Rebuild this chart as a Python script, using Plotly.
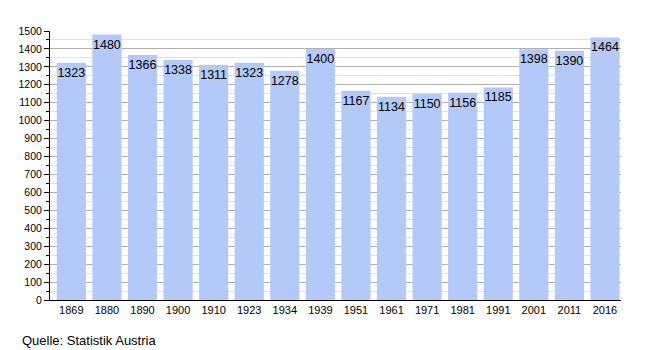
import plotly.graph_objects as go

years = ["1869", "1880", "1890", "1900", "1910", "1923", "1934", "1939", "1951", "1961", "1971", "1981", "1991", "2001", "2011", "2016"]
population = [1323, 1480, 1366, 1338, 1311, 1323, 1278, 1400, 1167, 1134, 1150, 1156, 1185, 1398, 1390, 1464]
y_ticks = list(range(0, 1501, 100))

fig = go.Figure(go.Bar(
    x=years, y=population,
    marker=dict(color="#b3c9f7", line=dict(width=0)),
    width=0.82,
    text=[str(v) for v in population],
    textposition="inside", insidetextanchor="end",
    textangle=0, constraintext="none",
    textfont=dict(family="Liberation Sans, Arial, sans-serif", size=12.5, color="black"),
    cliponaxis=False,
))

fig.update_layout(
    width=650, height=350,
    margin=dict(l=50, r=29, t=31, b=50),
    paper_bgcolor="white", plot_bgcolor="white",
    showlegend=False,
    font=dict(family="Liberation Sans, Arial, sans-serif", color="black"),
)
fig.update_xaxes(
    type="category", range=[-0.6, 15.45], showline=True, linecolor="black", linewidth=1,
    ticks="", tickfont=dict(size=11), showgrid=False,
)
fig.update_yaxes(
    range=[0, 1500], tickvals=y_ticks, ticks="outside", ticklen=5, tickcolor="black",
    showline=True, linecolor="black", linewidth=1,
    showgrid=True, gridcolor="#b0b0b0", gridwidth=1,
    minor=dict(dtick=50, tick0=0, showgrid=True, gridcolor="#e2e2e2", ticks="outside", ticklen=3, tickcolor="black"),
    tickfont=dict(size=10.5), zeroline=False,
)
fig.add_annotation(
    text="Quelle: Statistik Austria", xref="paper", yref="paper",
    x=-0.053, y=-0.152, xanchor="left", yanchor="middle", showarrow=False,
    font=dict(size=13, color="black"),
)
fig.write_html("out.html")
